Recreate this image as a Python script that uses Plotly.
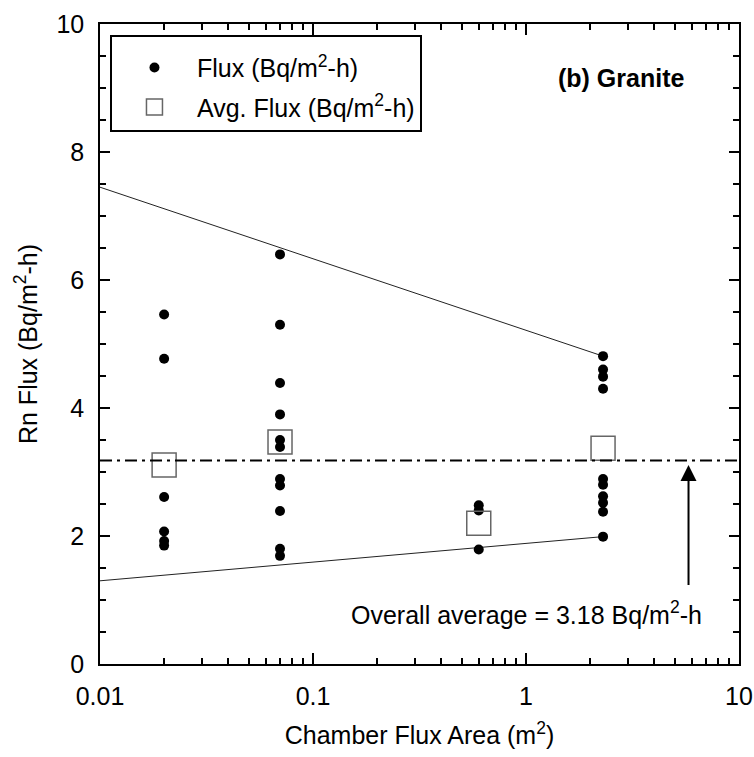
import plotly.graph_objects as go

# ---- data ----
area_x = [0.02, 0.07, 0.6, 2.3]
flux_002 = [5.46, 4.77, 2.61, 2.07, 1.92, 1.85]
flux_007 = [6.40, 5.30, 4.39, 3.90, 3.50, 3.39, 2.89, 2.79, 2.39, 1.80, 1.69]
flux_06 = [2.48, 2.40, 1.79]
flux_23 = [4.81, 4.60, 4.49, 4.30, 2.89, 2.80, 2.62, 2.52, 2.38, 1.99]
avg_flux = [3.11, 3.47, 2.20, 3.37]
overall_avg = 3.18
upper_x = [0.01, 2.3]
upper_y = [7.45, 4.81]
lower_x = [0.01, 2.3]
lower_y = [1.30, 1.99]
x_range = [0.01, 10]
x_tickvals = [0.01, 0.1, 1, 10]
x_ticktext = ["0.01", "0.1", "1", "10"]
y_tickvals = [0, 2, 4, 6, 8, 10]

FONT = "Liberation Sans, Arial, sans-serif"
FS = 25

flux_groups = [flux_002, flux_007, flux_06, flux_23]
pts_x, pts_y = [], []
for xv, grp in zip(area_x, flux_groups):
    pts_x += [xv] * len(grp)
    pts_y += grp

fig = go.Figure()

# envelope lines
fig.add_trace(go.Scatter(x=upper_x, y=upper_y, mode="lines",
                         line=dict(color="#222", width=1), showlegend=False, hoverinfo="skip"))
fig.add_trace(go.Scatter(x=lower_x, y=lower_y, mode="lines",
                         line=dict(color="#222", width=1), showlegend=False, hoverinfo="skip"))
# overall average dash-dot (on the mirrored top/right axes, identical ranges)
fig.add_trace(go.Scatter(x=x_range, y=[overall_avg, overall_avg], mode="lines",
                         xaxis="x2", yaxis="y2",
                         line=dict(color="black", width=2, dash="12px,5px,3px,5px"),
                         showlegend=False, hoverinfo="skip"))

fig.add_trace(go.Scatter(x=pts_x, y=pts_y, mode="markers",
                         name="Flux (Bq/m<sup>2</sup>-h)", legendgroup="a",
                         marker=dict(symbol="circle", size=10, color="black")))
fig.add_trace(go.Scatter(x=area_x, y=avg_flux, mode="markers",
                         name="Avg. Flux (Bq/m<sup>2</sup>-h)", legendgroup="b",
                         marker=dict(symbol="square-open", size=24, color="#666",
                                     line=dict(width=1.5, color="#666"))))

axis_common = dict(showline=True, linecolor="black", linewidth=1.5, mirror=True,
                   ticks="inside", tickcolor="black", tickwidth=1.5, showgrid=False,
                   zeroline=False, automargin=False,
                   tickfont=dict(family=FONT, size=FS, color="black"))
x_minor = dict(ticks="inside", ticklen=6, tickcolor="black", tickwidth=1.5,
               dtick="D1", showgrid=False)
y_minor = dict(ticks="inside", ticklen=6, tickcolor="black", tickwidth=1.5,
               dtick=0.5, showgrid=False)

fig.update_layout(
    xaxis=dict(type="log", range=[-2, 1], tickvals=x_tickvals, ticktext=x_ticktext,
               ticklen=11, ticklabelstandoff=9, minor=x_minor,
               title=dict(text="Chamber Flux Area (m<sup>2</sup>)",
                          font=dict(family=FONT, size=FS, color="black"), standoff=18),
               **axis_common),
    yaxis=dict(range=[0, 10], tickvals=y_tickvals, ticklen=10, ticklabelstandoff=9,
               minor=y_minor,
               title=dict(text="Rn Flux (Bq/m<sup>2</sup>-h)",
                          font=dict(family=FONT, size=FS, color="black"), standoff=12),
               **axis_common),
    xaxis2=dict(type="log", range=[-2, 1], tickvals=x_tickvals, overlaying="x",
                side="top", anchor="y2", ticks="inside", ticklen=11, tickwidth=1.5,
                tickcolor="black", showticklabels=False, showgrid=False,
                zeroline=False, showline=False, minor=x_minor, automargin=False),
    yaxis2=dict(range=[0, 10], tickvals=y_tickvals, overlaying="y", side="right",
                anchor="x2", ticks="inside", ticklen=10, tickwidth=1.5,
                tickcolor="black", showticklabels=False, showgrid=False,
                zeroline=False, showline=False, minor=y_minor, automargin=False),
)

fig.add_annotation(x=0.763, y=3.11, ax=0.763, ay=1.21, xref="x", yref="y",
                   axref="x", ayref="y", text="", showarrow=True,
                   arrowhead=2, arrowsize=1.6, arrowwidth=2, arrowcolor="black")
fig.add_annotation(x=0.835, y=0.80, xref="x", yref="y", xanchor="right", yanchor="middle",
                   text="Overall average = 3.18 Bq/m<sup>2</sup>-h", showarrow=False,
                   font=dict(family=FONT, size=FS, color="black"))
fig.add_annotation(x=0.445, y=9.16, xref="x", yref="y", xanchor="center", yanchor="middle",
                   text="<b>(b) Granite</b>", showarrow=False,
                   font=dict(family=FONT, size=FS, color="black"))

fig.update_layout(
    width=754, height=757,
    margin=dict(l=100, r=15, t=24, b=93, autoexpand=False),
    paper_bgcolor="white", plot_bgcolor="white",
    font=dict(family=FONT, size=FS, color="black"),
    legend=dict(x=0.0156, y=0.983, xanchor="left", yanchor="top",
                bordercolor="black", borderwidth=2, bgcolor="white",
                font=dict(family=FONT, size=FS, color="black"),
                title=dict(text="&nbsp;", font=dict(family=FONT, size=6)),
                itemwidth=75, tracegroupgap=4),
    showlegend=True,
)

fig.write_html("out.html")
